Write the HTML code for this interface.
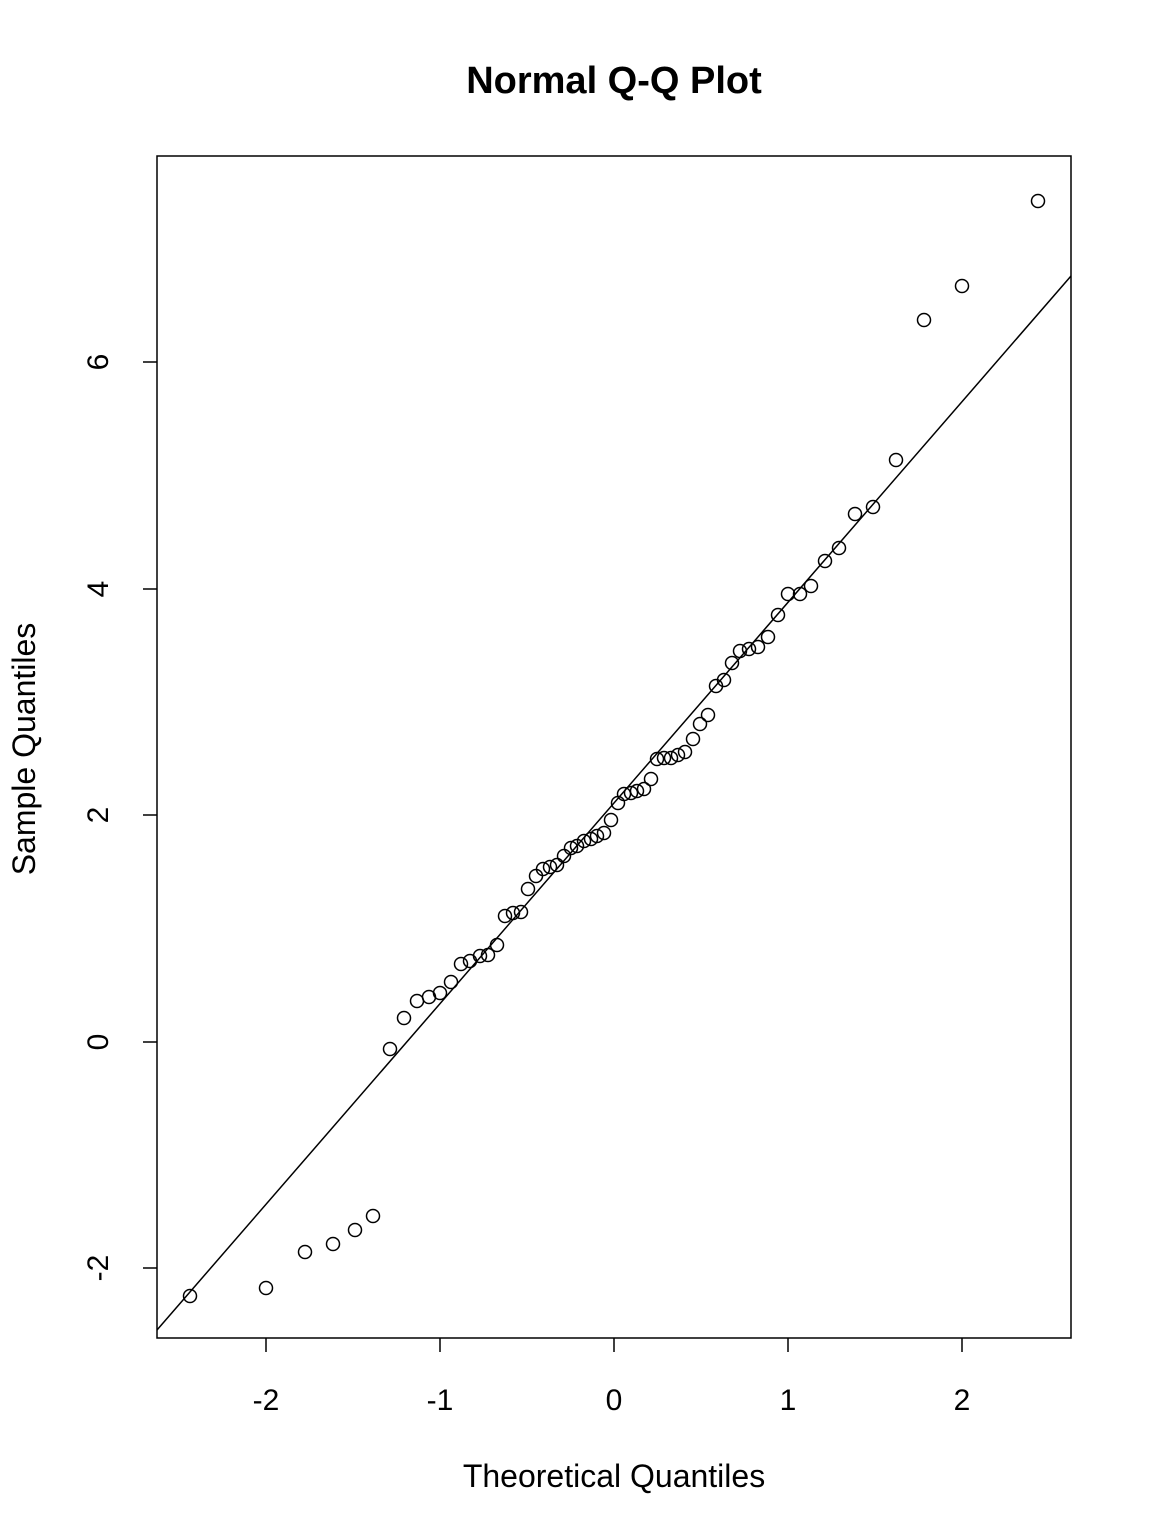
<!DOCTYPE html>
<html><head><meta charset="utf-8"><style>
html,body{margin:0;padding:0;background:#fff}
svg{display:block}
text{font-family:"Liberation Sans",Arial,sans-serif;fill:#000}
</style></head><body>
<svg width="1152" height="1536" viewBox="0 0 1152 1536" xmlns="http://www.w3.org/2000/svg">
<rect width="1152" height="1536" fill="#fff"/>
<text x="614" y="93" font-size="38" font-weight="bold" text-anchor="middle">Normal Q-Q Plot</text>
<rect x="157" y="156" width="914" height="1182" fill="none" stroke="#000" stroke-width="1.5"/>
<g stroke="#000" stroke-width="1.5">
<line x1="266" y1="1338" x2="266" y2="1352"/>
<line x1="440" y1="1338" x2="440" y2="1352"/>
<line x1="614" y1="1338" x2="614" y2="1352"/>
<line x1="788" y1="1338" x2="788" y2="1352"/>
<line x1="962" y1="1338" x2="962" y2="1352"/>
<line x1="143" y1="1268" x2="157" y2="1268"/>
<line x1="143" y1="1042" x2="157" y2="1042"/>
<line x1="143" y1="815" x2="157" y2="815"/>
<line x1="143" y1="589" x2="157" y2="589"/>
<line x1="143" y1="362" x2="157" y2="362"/>
</g>
<g font-size="30" text-anchor="middle">
<text x="266" y="1410">-2</text>
<text x="440" y="1410">-1</text>
<text x="614" y="1410">0</text>
<text x="788" y="1410">1</text>
<text x="962" y="1410">2</text>
<text transform="translate(108,1268) rotate(-90)">-2</text>
<text transform="translate(108,1042) rotate(-90)">0</text>
<text transform="translate(108,815) rotate(-90)">2</text>
<text transform="translate(108,589) rotate(-90)">4</text>
<text transform="translate(108,362) rotate(-90)">6</text>
</g>
<g font-size="32" text-anchor="middle">
<text x="614" y="1487">Theoretical Quantiles</text>
<text transform="translate(35,749) rotate(-90)">Sample Quantiles</text>
</g>
<line x1="157" y1="1330" x2="1071" y2="276" stroke="#000" stroke-width="1.5"/>
<g fill="none" stroke="#000" stroke-width="1.5">
<circle cx="190" cy="1296" r="6.5"/><circle cx="266" cy="1288" r="6.5"/><circle cx="305" cy="1252" r="6.5"/><circle cx="333" cy="1244" r="6.5"/><circle cx="355" cy="1230" r="6.5"/><circle cx="373" cy="1216" r="6.5"/><circle cx="390" cy="1049" r="6.5"/><circle cx="404" cy="1018" r="6.5"/><circle cx="417" cy="1001" r="6.5"/><circle cx="429" cy="997" r="6.5"/><circle cx="440" cy="993" r="6.5"/><circle cx="451" cy="982" r="6.5"/><circle cx="461" cy="964" r="6.5"/><circle cx="470" cy="961" r="6.5"/><circle cx="480" cy="956" r="6.5"/><circle cx="488" cy="955" r="6.5"/><circle cx="497" cy="945" r="6.5"/><circle cx="505" cy="916" r="6.5"/><circle cx="513" cy="913" r="6.5"/><circle cx="521" cy="912" r="6.5"/><circle cx="528" cy="889" r="6.5"/><circle cx="536" cy="876" r="6.5"/><circle cx="543" cy="869" r="6.5"/><circle cx="550" cy="867" r="6.5"/><circle cx="557" cy="865" r="6.5"/><circle cx="564" cy="856" r="6.5"/><circle cx="571" cy="848" r="6.5"/><circle cx="577" cy="846" r="6.5"/><circle cx="584" cy="841" r="6.5"/><circle cx="591" cy="839" r="6.5"/><circle cx="597" cy="836" r="6.5"/><circle cx="604" cy="833" r="6.5"/><circle cx="611" cy="820" r="6.5"/><circle cx="618" cy="803" r="6.5"/><circle cx="624" cy="794" r="6.5"/><circle cx="631" cy="793" r="6.5"/><circle cx="637" cy="791" r="6.5"/><circle cx="644" cy="789" r="6.5"/><circle cx="651" cy="779" r="6.5"/><circle cx="657" cy="759" r="6.5"/><circle cx="664" cy="758" r="6.5"/><circle cx="671" cy="758" r="6.5"/><circle cx="678" cy="755" r="6.5"/><circle cx="685" cy="752" r="6.5"/><circle cx="693" cy="739" r="6.5"/><circle cx="700" cy="724" r="6.5"/><circle cx="708" cy="715" r="6.5"/><circle cx="716" cy="686" r="6.5"/><circle cx="724" cy="680" r="6.5"/><circle cx="732" cy="663" r="6.5"/><circle cx="740" cy="651" r="6.5"/><circle cx="749" cy="649" r="6.5"/><circle cx="758" cy="647" r="6.5"/><circle cx="768" cy="637" r="6.5"/><circle cx="778" cy="615" r="6.5"/><circle cx="788" cy="594" r="6.5"/><circle cx="800" cy="594" r="6.5"/><circle cx="811" cy="586" r="6.5"/><circle cx="825" cy="561" r="6.5"/><circle cx="839" cy="548" r="6.5"/><circle cx="855" cy="514" r="6.5"/><circle cx="873" cy="507" r="6.5"/><circle cx="896" cy="460" r="6.5"/><circle cx="924" cy="320" r="6.5"/><circle cx="962" cy="286" r="6.5"/><circle cx="1038" cy="201" r="6.5"/>
</g>
</svg>
</body></html>
